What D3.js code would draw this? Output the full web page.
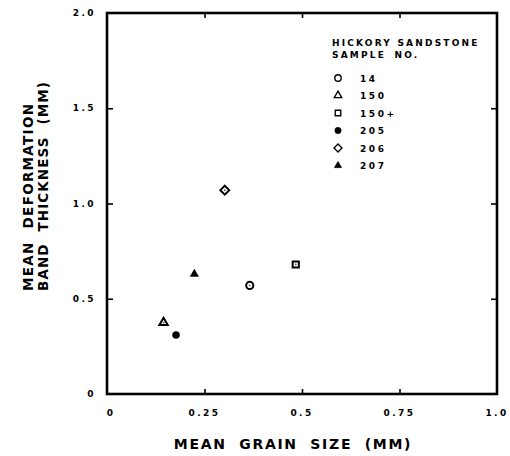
<!DOCTYPE html>
<html>
<head>
<meta charset="utf-8">
<script src="https://cdn.jsdelivr.net/npm/d3@7"></script>
<style>
  body { margin: 0; background: #fff; }
  text { font-family: "DejaVu Sans", sans-serif; fill: #000; }
</style>
</head>
<body>
<svg id="chart" width="510" height="456"></svg>
<script>
// samples, in legend order
const samples = ["14", "150", "150+", "205", "206", "207"];
const symbolKinds = ["circle", "triangle", "square", "circle", "diamond", "triangle"];
const filled = [false, false, false, true, false, true];
const grainSize = [0.366, 0.145, 0.484, 0.177, 0.302, 0.224];
const bandThickness = [0.57, 0.375, 0.68, 0.31, 1.07, 0.63];

const xTicks = [0, 0.25, 0.5, 0.75, 1.0];
const xTickLabels = ["0", "0.25", "0.5", "0.75", "1.0"];
const yTicks = [0, 0.5, 1.0, 1.5, 2.0];
const yTickLabels = ["0", "0.5", "1.0", "1.5", "2.0"];

const margin = {top: 13, right: 13, bottom: 62, left: 107};
const width = 510 - margin.left - margin.right;
const height = 456 - margin.top - margin.bottom;

const svg = d3.select("#chart");
const g = svg.append("g")
    .attr("transform", `translate(${margin.left},${margin.top})`);

const x = d3.scaleLinear().domain([0, 1]).range([0, width]);
const y = d3.scaleLinear().domain([0, 2]).range([height, 0]);

// inward ticks on all four sides
const inner = [0.25, 0.5, 0.75];
g.append("g")
    .attr("transform", `translate(0,${height})`)
    .call(d3.axisBottom(x).tickValues(inner).tickSize(-5).tickFormat(""));
g.append("g")
    .call(d3.axisTop(x).tickValues(inner).tickSize(-5).tickFormat(""));
g.append("g")
    .call(d3.axisLeft(y).tickValues([0.5, 1.0, 1.5]).tickSize(-6).tickFormat(""));
g.append("g")
    .attr("transform", `translate(${width},0)`)
    .call(d3.axisRight(y).tickValues([0.5, 1.0, 1.5]).tickSize(-6).tickFormat(""));
g.selectAll(".domain").remove();
g.selectAll(".tick line").attr("stroke", "#000").attr("stroke-width", 1.6);

// frame
g.append("rect")
    .attr("width", width)
    .attr("height", height)
    .attr("fill", "none")
    .attr("stroke", "#000")
    .attr("stroke-width", 2.6);

// tick labels
g.selectAll(".xlab")
    .data(xTicks)
    .join("text")
    .attr("x", (d, i) => x(d) + (i === 0 ? 4 : 0))
    .attr("y", height + 22)
    .attr("text-anchor", "middle")
    .style("font-size", "9px")
    .style("font-weight", "bold")
    .style("letter-spacing", "2.4px")
    .text((d, i) => xTickLabels[i]);

g.selectAll(".ylab")
    .data(yTicks)
    .join("text")
    .attr("x", -11)
    .attr("y", d => y(d) + 3)
    .attr("text-anchor", "end")
    .style("font-size", "9px")
    .style("font-weight", "bold")
    .style("letter-spacing", "2.4px")
    .text((d, i) => yTickLabels[i]);

// axis titles
svg.append("text")
    .attr("x", 293)
    .attr("y", 449)
    .attr("text-anchor", "middle")
    .style("font-size", "14px")
    .style("font-weight", "bold")
    .style("letter-spacing", "1.7px")
    .style("word-spacing", "6px")
    .text("MEAN GRAIN SIZE (MM)");

const yTitle = svg.append("g").attr("transform", "translate(0,291) rotate(-90)");
yTitle.append("text")
    .attr("x", 0)
    .attr("y", 33)
    .style("font-size", "13.5px")
    .style("font-weight", "bold")
    .style("letter-spacing", "1.3px")
    .style("word-spacing", "7px")
    .text("MEAN DEFORMATION");
yTitle.append("text")
    .attr("x", 0)
    .attr("y", 48)
    .style("font-size", "13.5px")
    .style("font-weight", "bold")
    .style("letter-spacing", "1.1px")
    .style("word-spacing", "6px")
    .text("BAND THICKNESS (MM)");

const symbolType = {
  circle: d3.symbolCircle,
  triangle: d3.symbolTriangle,
  square: d3.symbolSquare,
  diamond: d3.symbolDiamond2
};
const symbolSize = {circle: 40, triangle: 30, square: 38, diamond: 50};

function drawSymbol(sel, i) {
  const k = symbolKinds[i];
  sel.append("path")
      .attr("d", d3.symbol().type(symbolType[k]).size(symbolSize[k])())
      .attr("fill", filled[i] ? "#000" : "#fff")
      .attr("stroke", "#000")
      .attr("stroke-width", filled[i] ? 0.5 : 2);
}

// points
samples.forEach((s, i) => {
  const p = g.append("g")
      .attr("transform", `translate(${x(grainSize[i])},${y(bandThickness[i])})`);
  drawSymbol(p, i);
  if (!filled[i]) {
    p.append("circle").attr("r", 0.9).attr("fill", "#555");
  }
});

// legend
const legend = svg.append("g").attr("transform", "translate(332,0)");
legend.append("text")
    .attr("y", 46)
    .style("font-size", "9px")
    .style("font-weight", "bold")
    .style("letter-spacing", "2.2px")
    .text("HICKORY SANDSTONE");
legend.append("text")
    .attr("y", 58)
    .style("font-size", "9px")
    .style("font-weight", "bold")
    .style("letter-spacing", "2.2px")
    .style("word-spacing", "3px")
    .text("SAMPLE NO.");

samples.forEach((s, i) => {
  const row = legend.append("g")
      .attr("transform", `translate(0,${78 + i * 17.5})`);
  const sym = row.append("g").attr("transform", "translate(6,0)");
  drawSymbol(sym, i);
  sym.select("path").attr("stroke-width", filled[i] ? 0.5 : 1.5)
      .attr("transform", "scale(0.9)");
  row.append("text")
      .attr("x", 28)
      .attr("y", 3.5)
      .style("font-size", "9px")
      .style("font-weight", "bold")
      .style("letter-spacing", "2.6px")
      .text(s);
});
</script>
</body>
</html>
